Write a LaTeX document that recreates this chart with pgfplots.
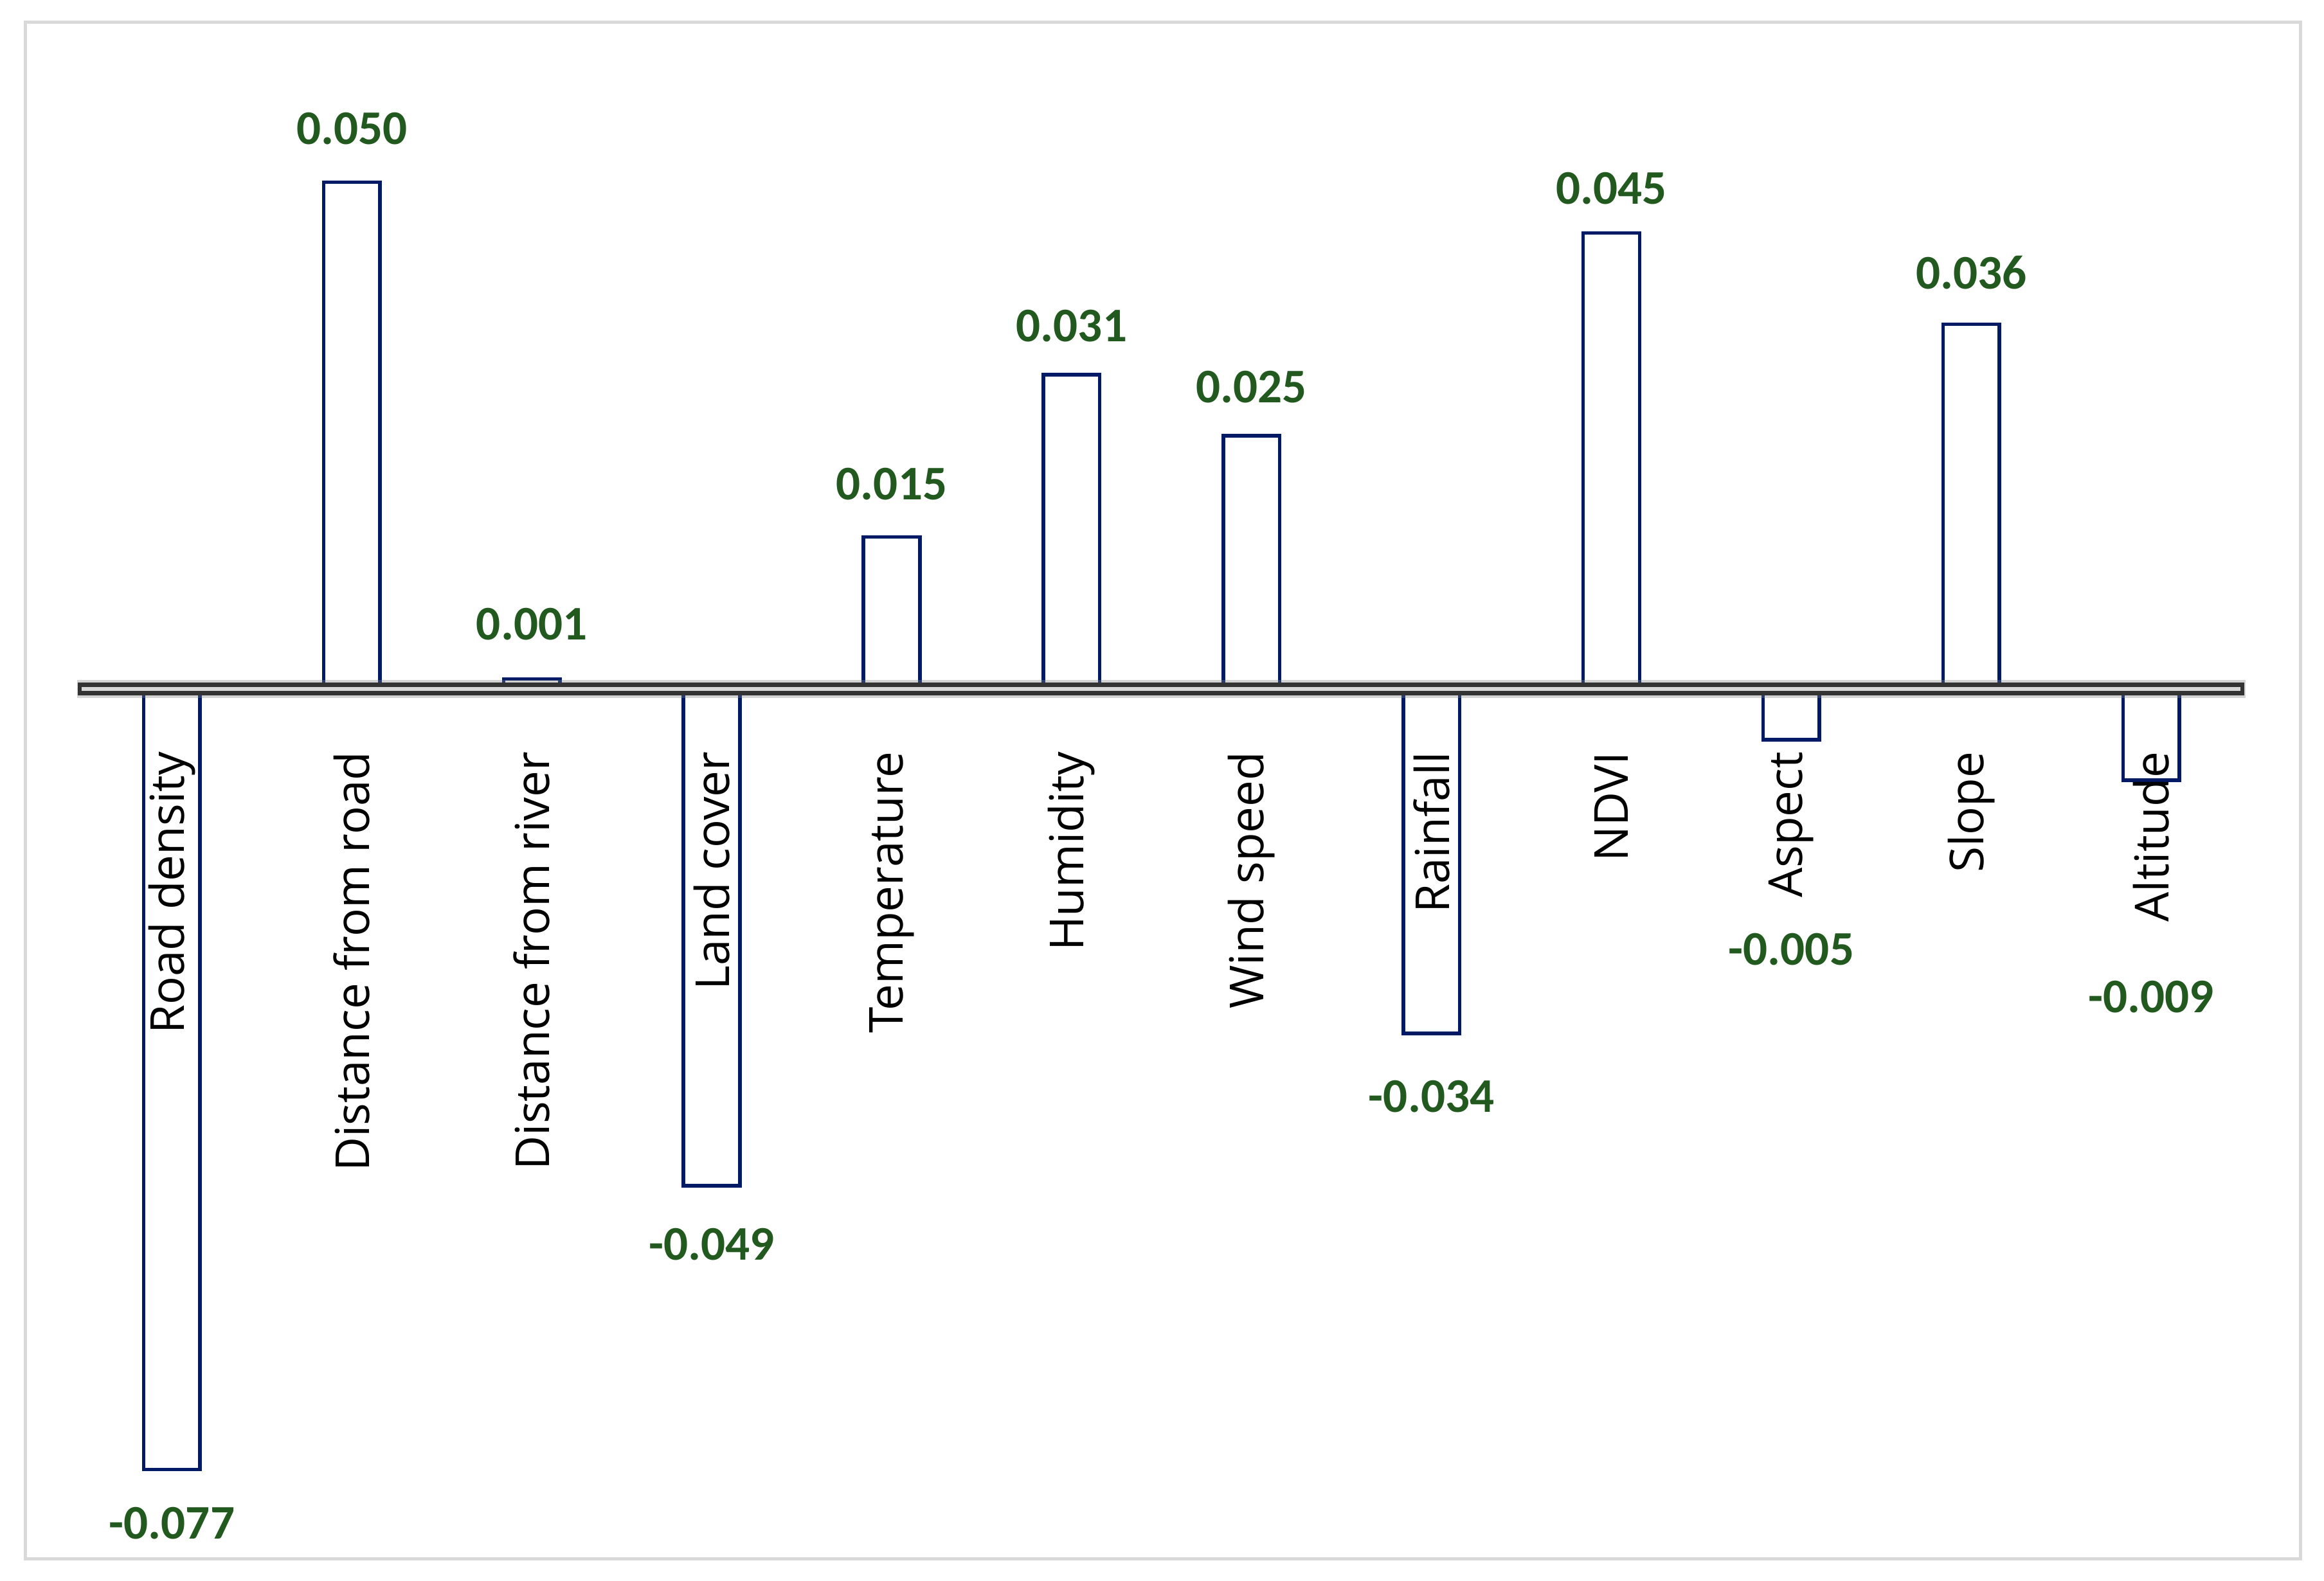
\documentclass[border=0pt]{standalone}
\usepackage{pgfplots}
\pgfplotsset{compat=1.18}
\usepackage{fontspec}
\setmainfont{Open Sans}
\newfontfamily\numfont{Carlito}
\definecolor{barnavy}{RGB}{0,26,102}
\definecolor{lblgreen}{RGB}{33,89,30}
\definecolor{framegray}{RGB}{217,217,217}
\begin{document}
\begin{tikzpicture}
\path[use as bounding box] (0,0) rectangle (784pt,533.5pt);
\draw[framegray, line width=1.1pt] (8.5pt,7.5pt) rectangle (776pt,526pt);
\begin{axis}[
  at={(26pt,10.3pt)}, anchor=south west,
  scale only axis, width=731.5pt, height=513pt,
  xmin=-0.527, xmax=11.524, ymin=-0.085, ymax=0.065,
  axis x line=middle, axis y line=none,
  x axis line style={draw=none},
  axis on top,
  xtick={0,1,2,3,4,5,6,7,8,9,10,11},
  xticklabels={Road density,Distance from road,Distance from river,Land cover,Temperature,Humidity,Wind speed,Rainfall,NDVI,Aspect,Slope,Altitude},
  major tick length=0pt,
  xticklabel style={rotate=90, anchor=east, inner sep=0pt, font=\fontsize{15.8}{18}\selectfont, text=black},
  xticklabel shift=21pt,
  clip=false,
]
\addplot[ybar, bar width=19pt, bar shift=0pt, draw=barnavy, fill=none, line width=1.2pt] coordinates {
 (0,-0.077) (1,0.050) (2,0.001) (3,-0.049) (4,0.015) (5,0.031) (6,0.025) (7,-0.034) (8,0.045) (9,-0.005) (10,0.036) (11,-0.009)
};
\addplot[only marks, mark=*, mark size=0pt, draw opacity=0, fill opacity=0,
  nodes near coords, point meta=explicit symbolic,
  nodes near coords style={anchor=center, text opacity=1, font=\numfont\bfseries\fontsize{16.3}{18}\selectfont, text=lblgreen}]
 table[meta=lab] {
x y lab
0 -0.0823 -0.077
1 0.0553 0.050
2 0.0064 0.001
3 -0.0548 -0.049
4 0.0202 0.015
5 0.0358 0.031
6 0.0298 0.025
7 -0.0402 -0.034
8 0.0494 0.045
9 -0.0257 -0.005
10 0.0411 0.036
11 -0.0304 -0.009
};
\draw[black!50, opacity=0.35, line width=6.2pt] (axis cs:-0.527,0) -- (axis cs:11.524,0);
\draw[black!80, line width=4.5pt] (axis cs:-0.522,0) -- (axis cs:11.519,0);
\draw[framegray, line width=1.4pt] (axis cs:-0.5,0) -- (axis cs:11.497,0);
\end{axis}
\end{tikzpicture}
\end{document}
